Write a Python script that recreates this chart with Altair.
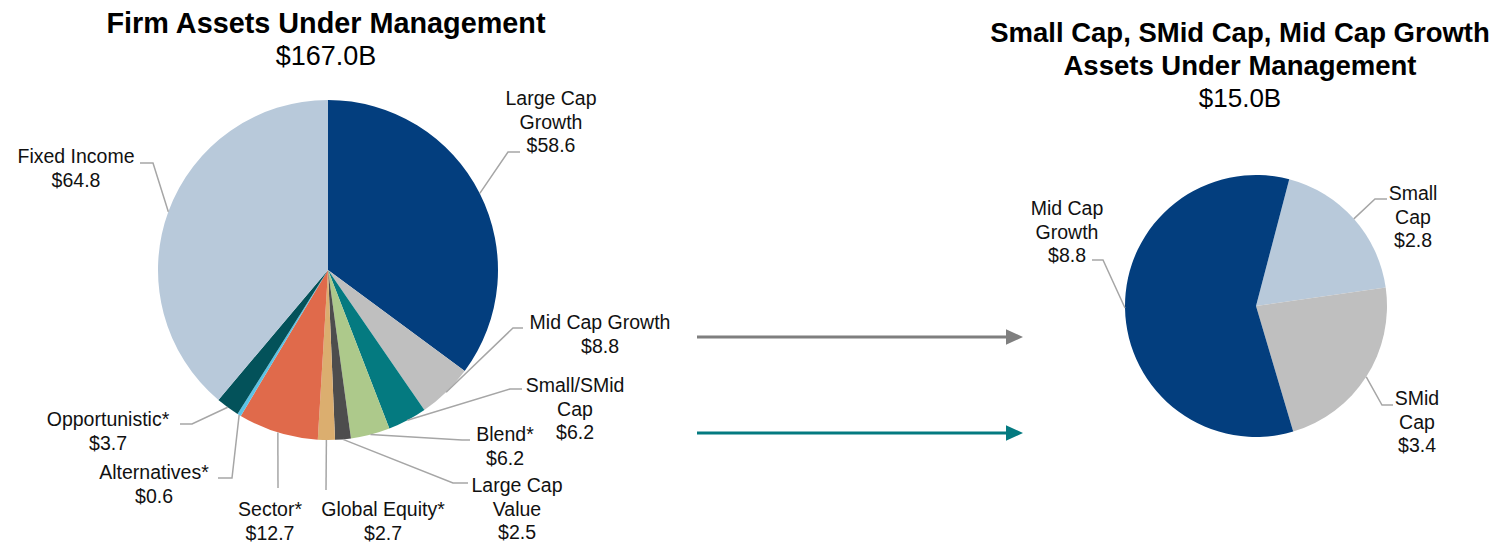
import math
import altair as alt
import pandas as pd

# ---------------- data ----------------
firm_categories = ["Large Cap Growth", "Mid Cap Growth", "Small/SMid Cap", "Blend*",
                   "Large Cap Value", "Global Equity*", "Sector*", "Alternatives*",
                   "Opportunistic*", "Fixed Income"]
firm_values = [58.6, 8.8, 6.2, 6.2, 2.5, 2.7, 12.7, 0.6, 3.7, 64.8]
firm_label_names = ["Large Cap\nGrowth", "Mid Cap Growth", "Small/SMid\nCap", "Blend*",
                    "Large Cap\nValue", "Global Equity*", "Sector*", "Alternatives*",
                    "Opportunistic*", "Fixed Income"]
firm_title = "Firm Assets Under Management"
firm_total = "$167.0B"

growth_categories = ["Small Cap", "SMid Cap", "Mid Cap Growth"]
growth_values = [2.8, 3.4, 8.8]
growth_label_names = ["Small\nCap", "SMid\nCap", "Mid Cap\nGrowth"]
growth_title = "Small Cap, SMid Cap, Mid Cap Growth\nAssets Under Management"
growth_total = "$15.0B"

# ---------------- styles / layout ----------------
firm_colors = ["#033E7E", "#BFBFBF", "#047A80", "#ADC98B", "#4D4D4D",
               "#DBAE6F", "#E06A4B", "#5BC3E6", "#03525A", "#B8C9DA"]
growth_colors = ["#B8C9DA", "#BFBFBF", "#033E7E"]

M = 8  # page margin
W, H = 1496, 534
FONT = "Liberation Sans"
LEADER = "#A6A6A6"

firm_center = (328, 270)
firm_radius = 170
growth_center = (1256, 306)
growth_radius = 131
growth_start = math.radians(14.7)

# label anchor (center x, first baseline y), elbow, end of leader (screen coords)
firm_label_pos = [(551, 105), (600, 329), (575, 392), (505, 441), (517, 492),
                  (383, 516), (270, 516), (154, 479), (108, 426), (76, 163)]
firm_elbow = [(508, 152), (513, 328), (510, 389), (462, 440), (453, 483),
              (326, 490), (278, 488), (232, 478), (192, 424), (153, 163)]
firm_end = [(520, 152), (523, 328), (522, 389), (470, 440), (468, 483),
            (326, 490), (278, 488), (218, 478), (180, 424), (140, 163)]
growth_label_pos = [(1413, 200), (1417, 405), (1067, 215)]
growth_elbow = [(1375, 199), (1382, 405), (1103, 260)]
growth_end = [(1387, 199), (1393, 405), (1092, 260)]

arrows = [  # x start, tip x, y, colour
    (697, 1023, 337, "#7F7F7F"),
    (697, 1023, 433, "#047A80"),
]


def sx(v):
    return v - M


def sy(v):
    return v - M


xs = alt.Scale(domain=[0, W], range=[0, W], nice=False, zero=False)
ys = alt.Scale(domain=[0, H], range=[0, H], nice=False, zero=False)


def pie(cats, vals, colors, center, radius, start):
    df = pd.DataFrame({"cat": cats, "value": vals, "idx": list(range(len(cats)))})
    return alt.Chart(df).mark_arc(radius=radius).encode(
        x=alt.value(sx(center[0])),
        y=alt.value(sy(center[1])),
        theta=alt.Theta("value:Q", stack=True,
                        scale=alt.Scale(range=[start, start + 2 * math.pi])),
        color=alt.Color("cat:N", scale=alt.Scale(domain=cats, range=colors), legend=None),
        order=alt.Order("idx:Q", sort="ascending"),
    )


def leaders_and_labels(names, vals, center, radius, start, elbows, ends, label_pos):
    total = sum(vals)
    rows, lab = [], []
    cum = 0.0
    for i, (n, v) in enumerate(zip(names, vals)):
        mid = start + 2 * math.pi * (cum + v / 2) / total
        cum += v
        px = center[0] + radius * math.sin(mid)
        py = center[1] - radius * math.cos(mid)
        pts = [(px, py), elbows[i], ends[i]]
        for k, (a, b) in enumerate(pts):
            rows.append({"g": i, "o": k, "x": sx(a), "y": sy(b)})
        lab.append({"x": sx(label_pos[i][0]), "y": sy(label_pos[i][1]),
                    "t": f"{n}\n${v:.1f}"})
    lines = alt.Chart(pd.DataFrame(rows)).mark_line(color=LEADER, strokeWidth=1.5).encode(
        x=alt.X("x:Q", scale=xs, axis=None),
        y=alt.Y("y:Q", scale=ys, axis=None),
        detail="g:N",
        order="o:Q",
    )
    texts = alt.Chart(pd.DataFrame(lab)).mark_text(
        font=FONT, fontSize=19.5, lineHeight=23.5, lineBreak="\n",
        align="center", baseline="alphabetic", color="#111111"
    ).encode(
        x=alt.X("x:Q", scale=xs, axis=None),
        y=alt.Y("y:Q", scale=ys, axis=None),
        text="t:N",
    )
    return lines, texts


firm_pie = pie(firm_categories, firm_values, firm_colors, firm_center, firm_radius, 0.0)
growth_pie = pie(growth_categories, growth_values, growth_colors, growth_center,
                 growth_radius, growth_start)

fl, ft = leaders_and_labels(firm_label_names, firm_values, firm_center, firm_radius, 0.0,
                            firm_elbow, firm_end, firm_label_pos)
gl, gt = leaders_and_labels(growth_label_names, growth_values, growth_center, growth_radius,
                            growth_start, growth_elbow, growth_end, growth_label_pos)

titles = pd.DataFrame([
    {"x": sx(326), "y": sy(33), "t": firm_title, "s": 28.8},
    {"x": sx(1240), "y": sy(42), "t": growth_title, "s": 27.5},
])
totals = pd.DataFrame([
    {"x": sx(326), "y": sy(65), "t": firm_total, "s": 27},
    {"x": sx(1240), "y": sy(107), "t": growth_total, "s": 26},
])
title_layer = alt.Chart(titles).mark_text(
    font=FONT, fontWeight="bold", lineHeight=33, lineBreak="\n",
    align="center", baseline="alphabetic", color="#000000"
).encode(x=alt.X("x:Q", scale=xs, axis=None), y=alt.Y("y:Q", scale=ys, axis=None),
         text="t:N", size=alt.Size("s:Q", scale=None, legend=None))
total_layer = alt.Chart(totals).mark_text(
    font=FONT, align="center", baseline="alphabetic", color="#000000"
).encode(x=alt.X("x:Q", scale=xs, axis=None), y=alt.Y("y:Q", scale=ys, axis=None),
         text="t:N", size=alt.Size("s:Q", scale=None, legend=None))

arr_df = pd.DataFrame([
    {"x": sx(a), "x2": sx(t - 12), "hx": sx(t - 8.5), "y": sy(y), "c": c}
    for a, t, y, c in arrows
])
shafts = alt.Chart(arr_df).mark_rule(strokeWidth=3).encode(
    x=alt.X("x:Q", scale=xs, axis=None), x2="x2:Q",
    y=alt.Y("y:Q", scale=ys, axis=None),
    color=alt.Color("c:N", scale=None),
)
heads = alt.Chart(arr_df).mark_point(
    shape="M-1,-0.9L1,0L-1,0.9Z", size=289, filled=True, opacity=1, strokeWidth=0
).encode(
    x=alt.X("hx:Q", scale=xs, axis=None),
    y=alt.Y("y:Q", scale=ys, axis=None),
    color=alt.Color("c:N", scale=None),
)

chart = alt.layer(
    firm_pie, growth_pie, fl, gl, ft, gt, title_layer, total_layer, shafts, heads
).resolve_scale(
    theta="independent", color="independent", size="independent"
).properties(
    width=W, height=H, autosize=alt.AutoSizeParams(type="none"), padding=0
).configure_view(stroke=None)

chart.save("out.html", embed_options={"renderer": "svg", "actions": False})
